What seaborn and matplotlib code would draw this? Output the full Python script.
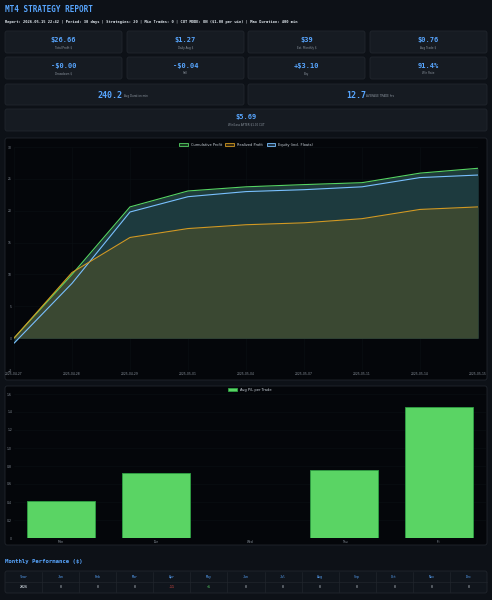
import matplotlib
matplotlib.use("Agg")
import matplotlib.pyplot as plt
import seaborn as sns
import pandas as pd
import numpy as np
from matplotlib.patches import FancyBboxPatch, Patch

# datos del reporte
dates = ["2025-04-27", "2025-04-28", "2025-04-29", "2025-05-01", "2025-05-04",
         "2025-05-07", "2025-05-11", "2025-05-14", "2025-05-15"]
cum_profit = [0.0, 10.0, 20.6, 23.1, 23.75, 24.1, 24.4, 25.9, 26.66]
realized = [0.0, 10.3, 15.8, 17.2, 17.8, 18.1, 18.75, 20.2, 20.6]
equity = [-0.8, 8.6, 19.8, 22.2, 23.0, 23.3, 23.75, 25.2, 25.6]

days = ["Mon", "Tue", "Wed", "Thu", "Fri"]
avg_pl = [0.41, 0.725, 0.0, 0.755, 1.455]

card_values = ["$26.66", "$1.27", "$39", "$0.76", "-$0.00", "-$0.04", "+$3.10", "91.4%"]
card_labels = ["Total Profit $", "Daily Avg $", "Est. Monthly $", "Avg Trade $",
               "Drawdown $", "Sell", "Buy", "Win Rate"]

months = ["Year", "Jan", "Feb", "Mar", "Apr", "May", "Jun", "Jul", "Aug", "Sep", "Oct", "Nov", "Dec"]
month_row = ["2026", "0", "0", "0", "-11", "+6", "0", "0", "0", "0", "0", "0", "0"]

BG = "#0d1117"
CARD = "#161b22"
EDGE = "#21262d"
BLUE = "#58a6ff"
GREY = "#8b949e"
PLOT = "#04060a"
MONO = "DejaVu Sans Mono"
line_cols = ["#56d364", "#d29922", "#79c0ff"]

sns.set_theme(style="dark")
plt.rcParams["font.family"] = ["DejaVu Sans"]

W, H = 492, 600
fig = plt.figure(figsize=(W / 100, H / 100), dpi=100, facecolor=BG)


def fx(x):
    return x / W


def fy(y):
    return 1 - y / H


def rect(x, y, w, h):
    return [x / W, 1 - (y + h) / H, w / W, h / H]


def card(x, y, w, h, fc=CARD):
    fig.patches.append(FancyBboxPatch((fx(x), fy(y + h)), w / W, h / H,
                                      boxstyle="round,pad=0,rounding_size=0.004",
                                      transform=fig.transFigure, fc=fc, ec=EDGE, lw=0.6,
                                      zorder=-5))


# encabezado
fig.text(fx(5), fy(10), "MT4 STRATEGY REPORT", color=BLUE, family=MONO,
         fontsize=5.5, fontweight="bold", va="center")
fig.text(fx(5), fy(22.5),
         "Report: 2026.05.15 22:42 | Period: 30 days | Strategies: 20 | Min Trades: 0 | "
         "CUT MODE: ON ($1.00 per win) | Max Duration: 400 min",
         color="#e6edf3", family=MONO, fontsize=2.7, fontweight="bold", va="center")

# tarjetas
xs = [5, 127, 248, 370]
for i, (v, l) in enumerate(zip(card_values, card_labels)):
    x = xs[i % 4]
    y = 31 if i < 4 else 57
    card(x, y, 117, 22)
    fig.text(fx(x + 58.5), fy(y + 9), v, color=BLUE, family=MONO, fontsize=5,
             fontweight="bold", ha="center", va="center")
    fig.text(fx(x + 58.5), fy(y + 16.5), l, color=GREY, fontsize=2, ha="center", va="center")

for x, v, l in [(5, "240.2", "Avg Duration min"), (248, "12.7", "AVERAGE TRADE hrs")]:
    card(x, 84, 239, 21)
    fig.text(fx(x + 118), fy(95), v, color=BLUE, family=MONO, fontsize=6,
             fontweight="bold", ha="right", va="center")
    fig.text(fx(x + 118.5), fy(96), l, color=GREY, fontsize=2, ha="left", va="center")

card(5, 109, 482, 22)
fig.text(fx(246), fy(117), "$5.69", color=BLUE, family=MONO, fontsize=5,
         fontweight="bold", ha="center", va="center")
fig.text(fx(246), fy(125), "Win/Loss AFTER $1.00 CUT", color=GREY, fontsize=2,
         ha="center", va="center")

# grafico de lineas
card(5, 138, 482, 242, fc=PLOT)
df = pd.DataFrame({"idx": range(len(dates)), "cum": cum_profit,
                   "real": realized, "eq": equity})
ax = fig.add_axes(rect(14, 147, 464, 223))
ax.patch.set_alpha(0)
ax.fill_between(df["idx"], 0, df["cum"], color="#1f3c3b", lw=0, zorder=1)
ax.fill_between(df["idx"], 0, df["eq"], color="#1d3a3e", lw=0, zorder=1)
ax.fill_between(df["idx"], 0, df["real"], color="#3a4832", lw=0, zorder=2)
sns.lineplot(data=df, x="idx", y="cum", ax=ax, color=line_cols[0], lw=0.8, zorder=4)
sns.lineplot(data=df, x="idx", y="real", ax=ax, color=line_cols[1], lw=0.8, zorder=4)
sns.lineplot(data=df, x="idx", y="eq", ax=ax, color=line_cols[2], lw=0.8, zorder=3)
ax.set_xlim(0, len(dates) - 1)
ax.set_ylim(-5, 30)
ax.set_yticks(range(-5, 31, 5))
ax.set_xticks(df["idx"])
ax.set_xticklabels(dates)
ax.tick_params(colors=GREY, labelsize=2.2, length=0, pad=1.5)
ax.set_xlabel("")
ax.set_ylabel("")
ax.grid(True, color="#0b0f14", lw=0.4)
for s in ax.spines.values():
    s.set_visible(False)
handles = [Patch(facecolor=matplotlib.colors.to_rgba(c, 0.25), edgecolor=c, lw=0.6)
           for c in line_cols]
ax.legend(handles, ["Cumulative Profit", "Realized Profit", "Equity (incl. Floats)"],
          loc="lower center", bbox_to_anchor=(0.5, 0.985), ncol=3, fontsize=2.6,
          frameon=False, handlelength=2.4, handleheight=0.9, columnspacing=1.0,
          labelcolor="#c9d1d9")

# grafico de barras
card(5, 386, 482, 159, fc=PLOT)
bdf = pd.DataFrame({"day": days, "pl": avg_pl})
ax2 = fig.add_axes(rect(14, 394, 472, 144))
ax2.patch.set_alpha(0)
sns.barplot(data=bdf, x="day", y="pl", ax=ax2, color="#5ad464", width=0.72,
            edgecolor="#2ea043", linewidth=0.6, saturation=1, label="Avg P/L per Trade")
ax2.set_ylim(0, 1.6)
ticks = np.arange(0, 1.61, 0.2)
ax2.set_yticks(ticks)
ax2.set_yticklabels([f"{v:.1f}" if v else "0" for v in ticks])
ax2.tick_params(colors=GREY, labelsize=2.2, length=0, pad=1.5)
ax2.set_xlabel("")
ax2.set_ylabel("")
ax2.grid(True, axis="y", color="#0b0f14", lw=0.4)
for s in ax2.spines.values():
    s.set_visible(False)
ax2.legend(loc="lower center", bbox_to_anchor=(0.5, 0.99), fontsize=2.6, frameon=False,
           handlelength=2.4, handleheight=0.9, labelcolor="#c9d1d9")

# tabla mensual
fig.text(fx(5), fy(561), "Monthly Performance ($)", color=BLUE, family=MONO,
         fontsize=4.1, fontweight="bold", va="center")
card(5, 571, 482, 22, fc="#10151c")
cw = 482 / len(months)
for j, (m, v) in enumerate(zip(months, month_row)):
    cx = 5 + cw * j + cw / 2
    if j > 0:
        fig.lines.append(plt.Line2D([fx(5 + cw * j)] * 2, [fy(572), fy(592)],
                                    transform=fig.transFigure, color=EDGE, lw=0.5))
    fig.text(fx(cx), fy(577), m, color=BLUE, family=MONO, fontsize=2.3,
             ha="center", va="center")
    col = "#c9d1d9"
    if v.startswith("-"):
        col = "#f85149"
    elif v.startswith("+"):
        col = "#56d364"
    fig.text(fx(cx), fy(587), v, color=col, family=MONO, fontsize=2.3,
             fontweight="bold" if j == 0 else "normal", ha="center", va="center")
fig.lines.append(plt.Line2D([fx(5), fx(487)], [fy(582)] * 2, transform=fig.transFigure,
                            color=EDGE, lw=0.5))

fig.savefig("out.png", dpi=100, facecolor=BG)
